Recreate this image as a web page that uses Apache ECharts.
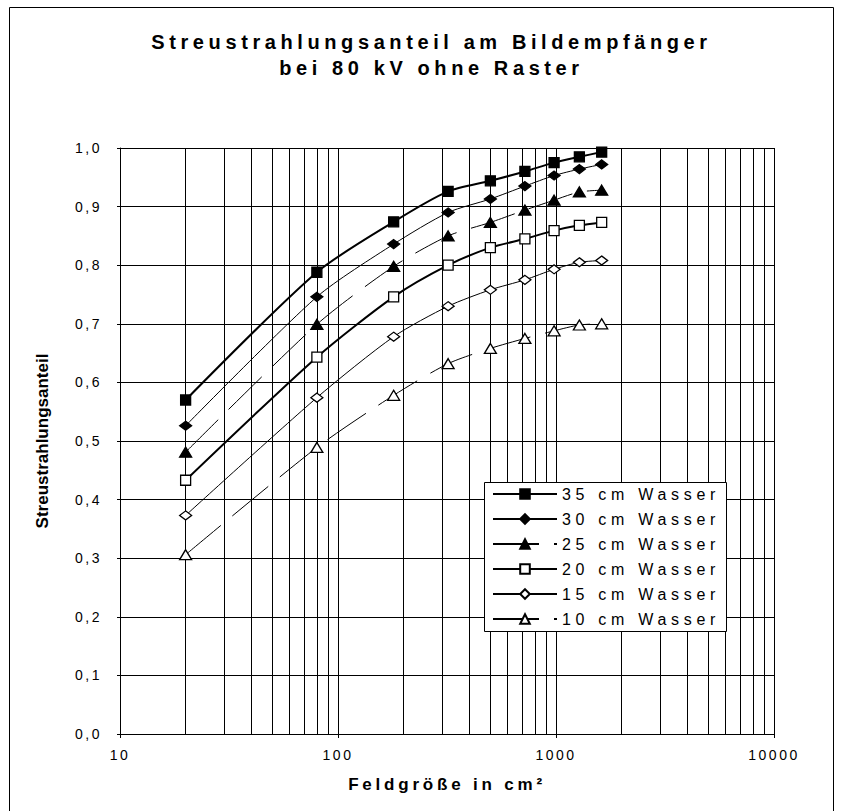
<!DOCTYPE html>
<html>
<head>
<meta charset="utf-8">
<script src="https://cdn.jsdelivr.net/npm/echarts@6/dist/echarts.min.js"></script>
<style>
  html, body { margin: 0; padding: 0; background: #fff; }
  #chart { width: 842px; height: 811px; }
</style>
</head>
<body>
<div id="chart"></div>
<script>
// ---- data ----
const titleLines = ['Streustrahlungsanteil am Bildempfänger', 'bei 80 kV ohne Raster'];
const xAxisName = 'Feldgröße in cm²';
const yAxisName = 'Streustrahlungsanteil';
const fieldSizes = [20, 80, 180, 320, 500, 720, 980, 1280, 1620];
const seriesNames = ['35 cm Wasser', '30 cm Wasser', '25 cm Wasser', '20 cm Wasser', '15 cm Wasser', '10 cm Wasser'];
const water35 = [0.570, 0.788, 0.874, 0.926, 0.944, 0.960, 0.975, 0.985, 0.993];
const water30 = [0.526, 0.746, 0.836, 0.890, 0.913, 0.935, 0.953, 0.964, 0.972];
const water25 = [0.481, 0.699, 0.798, 0.850, 0.873, 0.894, 0.911, 0.925, 0.928];
const water20 = [0.433, 0.643, 0.746, 0.800, 0.830, 0.845, 0.859, 0.868, 0.873];
const water15 = [0.373, 0.574, 0.678, 0.730, 0.758, 0.775, 0.793, 0.805, 0.808];
const water10 = [0.306, 0.489, 0.578, 0.632, 0.658, 0.675, 0.688, 0.698, 0.700];
const xTickLabels = ['10', '100', '1000', '10000'];
const yTickLabels = ['0,0', '0,1', '0,2', '0,3', '0,4', '0,5', '0,6', '0,7', '0,8', '0,9', '1,0'];
const xMinorGrid = [20, 30, 40, 50, 60, 70, 80, 90, 200, 300, 400, 500, 600, 700, 800, 900, 2000, 3000, 4000, 5000, 6000, 7000, 8000, 9000];

// ---- chart ----
const FONT = '"Liberation Sans", Arial, sans-serif';
const pairs = vals => fieldSizes.map((x, i) => [x, vals[i]]);

const styles = [
  { vals: water35, width: 2, type: 'solid', symbol: 'rect', size: 10, fill: '#000' },
  { vals: water30, width: 1, type: 'solid', symbol: 'diamond', size: [12, 9], fill: '#000' },
  { vals: water25, width: 1, type: [46, 15], symbol: 'triangle', size: [12, 10], fill: '#000' },
  { vals: water20, width: 2, type: 'solid', symbol: 'rect', size: 10, fill: '#fff' },
  { vals: water15, width: 1, type: 'solid', symbol: 'diamond', size: [12, 9], fill: '#fff' },
  { vals: water10, width: 1, type: [46, 15], symbol: 'triangle', size: [12, 10], fill: '#fff' }
];

const series = styles.map((s, i) => ({
  name: seriesNames[i],
  type: 'line',
  data: pairs(s.vals),
  smooth: 0.25,
  symbol: s.symbol,
  symbolSize: s.size,
  showSymbol: true,
  lineStyle: { color: '#000', width: s.width, type: s.type },
  itemStyle: { color: s.fill, borderColor: '#000', borderWidth: 1.3 },
  z: 3,
  animation: false
}));

series.push({
  name: 'minorGrid',
  type: 'line',
  data: [],
  silent: true,
  animation: false,
  markLine: {
    silent: true,
    animation: false,
    z: 1,
    symbol: ['none', 'none'],
    label: { show: false },
    lineStyle: { color: '#000', width: 1, type: 'solid' },
    emphasis: { disabled: true },
    data: xMinorGrid.map(v => ({ xAxis: v }))
  }
});

const chart = echarts.init(document.getElementById('chart'), null, { renderer: 'svg' });
chart.setOption({
  animation: false,
  backgroundColor: '#fff',
  title: {
    text: titleLines.join('\n'),
    left: 431.5,
    top: 29,
    padding: 0,
    textAlign: 'center',
    textVerticalAlign: 'top',
    textStyle: { fontFamily: FONT, fontSize: 20, fontWeight: 'bold', color: '#000', lineHeight: 26 }
  },
  grid: { left: 120, right: 68, top: 148, bottom: 77, containLabel: false },
  graphic: [
    { type: 'rect', z: 0, silent: true, shape: { x: 9.5, y: 7.5, width: 824, height: 820 }, style: { fill: 'none', stroke: '#000', lineWidth: 1 } },
    { type: 'rect', z: 5, silent: true, shape: { x: 484.5, y: 482.5, width: 242, height: 149 }, style: { fill: '#fff', stroke: '#000', lineWidth: 1 } }
  ],
  legend: {
    data: seriesNames,
    orient: 'vertical',
    left: 492,
    top: 486,
    padding: 0,
    itemWidth: 64,
    itemHeight: 12,
    itemGap: 9,
    z: 6,
    textStyle: { fontFamily: FONT, fontSize: 16, color: '#000', lineHeight: 16 },
    selectedMode: false
  },
  xAxis: {
    type: 'log',
    logBase: 10,
    min: 10,
    max: 10000,
    name: xAxisName,
    nameLocation: 'middle',
    nameGap: 42,
    nameTextStyle: { fontFamily: FONT, fontSize: 17, fontWeight: 'bold', color: '#000' },
    axisLine: { show: true, lineStyle: { color: '#000', width: 1 } },
    axisTick: { show: true, length: 4, lineStyle: { color: '#000' } },
    axisLabel: {
      margin: 14,
      fontFamily: FONT, fontSize: 14, color: '#000',
      formatter: v => xTickLabels[Math.round(Math.log10(v)) - 1]
    },
    splitLine: { show: true, lineStyle: { color: '#000', width: 1 } }
  },
  yAxis: {
    type: 'value',
    min: 0,
    max: 1,
    interval: 0.1,
    name: yAxisName,
    nameLocation: 'middle',
    nameGap: 69,
    nameTextStyle: { fontFamily: FONT, fontSize: 17, fontWeight: 'bold', color: '#000' },
    axisLine: { show: true, lineStyle: { color: '#000', width: 1 } },
    axisTick: { show: true, length: 3, lineStyle: { color: '#000' } },
    axisLabel: {
      margin: 18,
      fontFamily: FONT, fontSize: 14, color: '#000',
      formatter: v => yTickLabels[Math.round(v * 10)]
    },
    splitLine: { show: true, lineStyle: { color: '#000', width: 1 } }
  },
  series: series
});

// letter spacing of the original (wide-spaced) lettering
const spacing = {};
titleLines.forEach(t => { spacing[t] = 4.6; });
seriesNames.forEach(t => { spacing[t] = 4.7; });
spacing[xAxisName] = 3.8;
spacing[yAxisName] = 0;
function applySpacing() {
  document.querySelectorAll('#chart svg text').forEach(el => {
    const t = el.textContent;
    const s = (t in spacing) ? spacing[t] : 2.5;
    el.setAttribute('letter-spacing', s);
  });
}
applySpacing();
chart.on('rendered', applySpacing);
chart.on('finished', applySpacing);
</script>
</body>
</html>
